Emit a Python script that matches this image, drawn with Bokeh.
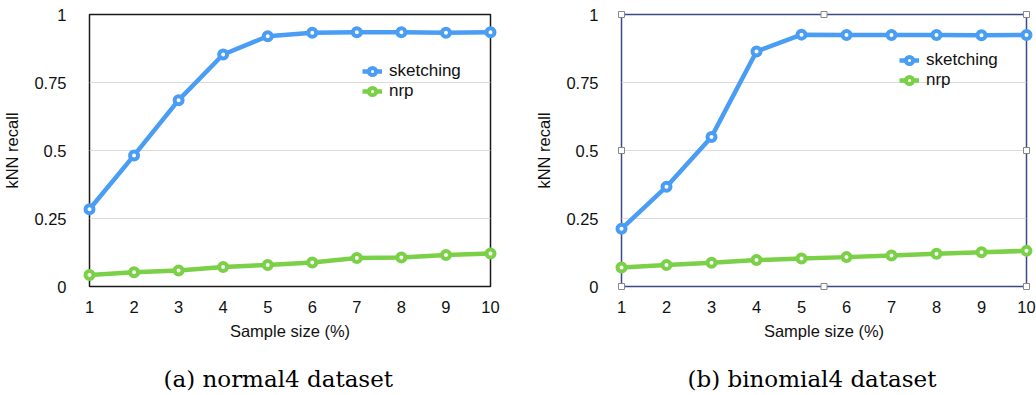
from bokeh.plotting import figure
from bokeh.layouts import row, column
from bokeh.models import Range1d, FixedTicker, Legend, LegendItem, Label
from bokeh.embed import file_html
from bokeh.resources import INLINE

# ---- data ----
sample_size = [1, 2, 3, 4, 5, 6, 7, 8, 9, 10]
normal4_sketching = [0.284, 0.482, 0.685, 0.853, 0.920, 0.933, 0.935, 0.935, 0.933, 0.935]
normal4_nrp = [0.042, 0.052, 0.059, 0.072, 0.079, 0.088, 0.105, 0.107, 0.116, 0.121]
binomial4_sketching = [0.212, 0.367, 0.550, 0.864, 0.926, 0.925, 0.925, 0.925, 0.924, 0.925]
binomial4_nrp = [0.070, 0.079, 0.087, 0.097, 0.103, 0.108, 0.114, 0.120, 0.126, 0.131]
y_ticks = [0, 0.25, 0.5, 0.75, 1]
y_tick_labels = ["0", "0.25", "0.5", "0.75", "1"]
series_names = ["sketching", "nrp"]
captions = ["(a) normal4 dataset", "(b) binomial4 dataset"]

BLUE = "#4A9DF5"
GREEN = "#7AD046"
SANS = "Liberation Sans"
SERIF = "DejaVu Serif"
CHART_H = 355
CAP_H = 40


def make_panel(sk, nrp, width, borders, frame_color, legend_loc, handles=False):
    bl, br, bt, bb = borders
    p = figure(width=width, height=CHART_H, output_backend="svg",
               toolbar_location=None,
               x_range=Range1d(min(sample_size), max(sample_size)),
               y_range=Range1d(y_ticks[0], y_ticks[-1]),
               min_border_left=bl, min_border_right=br,
               min_border_top=bt, min_border_bottom=bb)
    p.background_fill_color = "white"
    p.border_fill_color = "white"
    p.outline_line_color = frame_color
    p.outline_line_width = 1.5
    p.outline_line_alpha = 1.0

    p.xaxis.ticker = FixedTicker(ticks=sample_size)
    p.yaxis.ticker = FixedTicker(ticks=y_ticks)
    p.yaxis.major_label_overrides = {t: l for t, l in zip(y_ticks, y_tick_labels)}
    for ax in (p.xaxis, p.yaxis):
        ax.axis_line_color = None
        ax.major_tick_line_color = None
        ax.minor_tick_line_color = None
        ax.major_label_text_font = SANS
        ax.major_label_text_font_size = "16.5px"
        ax.major_label_text_color = "#111111"
        ax.axis_label_text_font = SANS
        ax.axis_label_text_font_size = "16.5px"
        ax.axis_label_text_font_style = "normal"
        ax.axis_label_text_color = "#111111"
    p.xaxis.axis_label = "Sample size (%)"
    p.yaxis.axis_label = "kNN recall"
    p.xaxis.major_label_standoff = 8
    p.xaxis.axis_label_standoff = 6
    p.yaxis.major_label_standoff = 17
    p.yaxis.axis_label_standoff = 10

    p.xgrid.grid_line_color = None
    p.ygrid.grid_line_color = "#dcdcdc"
    p.ygrid.grid_line_width = 1

    if handles:
        xs = [min(sample_size), (min(sample_size) + max(sample_size)) / 2, max(sample_size)]
        ys = [y_ticks[0], (y_ticks[0] + y_ticks[-1]) / 2, y_ticks[-1]]
        hx, hy = [], []
        for yy in ys:
            for xx in xs:
                if yy == ys[1] and xx == xs[1]:
                    continue
                hx.append(xx)
                hy.append(yy)
        p.scatter(hx, hy, marker="square", size=6, fill_color="white",
                  line_color="#888888", line_width=1, level="overlay")

    items = []
    for name, vals, col in zip(series_names, [sk, nrp], [BLUE, GREEN]):
        l = p.line(sample_size, vals, line_color=col, line_width=4.5, level="overlay")
        s = p.scatter(sample_size, vals, marker="circle", size=8, fill_color="white",
                      line_color=col, line_width=4, level="overlay")
        items.append(LegendItem(label=name, renderers=[l, s]))

    legend = Legend(items=items, location=legend_loc)
    legend.background_fill_alpha = 0
    legend.border_line_color = None
    legend.padding = 0
    legend.margin = 0
    legend.spacing = 0
    legend.glyph_width = 20
    legend.glyph_height = 18
    legend.label_height = 18
    legend.label_standoff = 7
    legend.label_text_font = SANS
    legend.label_text_font_size = "17px"
    legend.label_text_color = "#111111"
    p.add_layout(legend)
    return p


def make_caption(text, width, x_left):
    c = figure(width=width, height=CAP_H, output_backend="svg", toolbar_location=None,
               x_range=Range1d(0, width), y_range=Range1d(0, CAP_H),
               x_axis_type=None, y_axis_type=None,
               min_border=0, min_border_left=0, min_border_right=0,
               min_border_top=0, min_border_bottom=0)
    c.outline_line_color = None
    c.grid.visible = False
    c.background_fill_color = "white"
    c.border_fill_color = "white"
    c.add_layout(Label(x=x_left, y=CAP_H - 23, text=text, text_font=SERIF,
                       text_font_size="23px", text_color="black",
                       text_align="left", text_baseline="middle"))
    return c


p1 = make_panel(normal4_sketching, normal4_nrp, 518,
                (87, 28, 14, CHART_H - 289), "#1a1a1a", (273, 185))
p2 = make_panel(binomial4_sketching, binomial4_nrp, 518,
                (103, 10, 11, CHART_H - 286), "#3a4a88", (278, 196), handles=True)
c1 = make_caption(captions[0], 518, 163)
c2 = make_caption(captions[1], 518, 687 - 518)

layout = column(row(p1, p2), row(c1, c2))
open("out.html", "w").write(file_html(layout, INLINE))
